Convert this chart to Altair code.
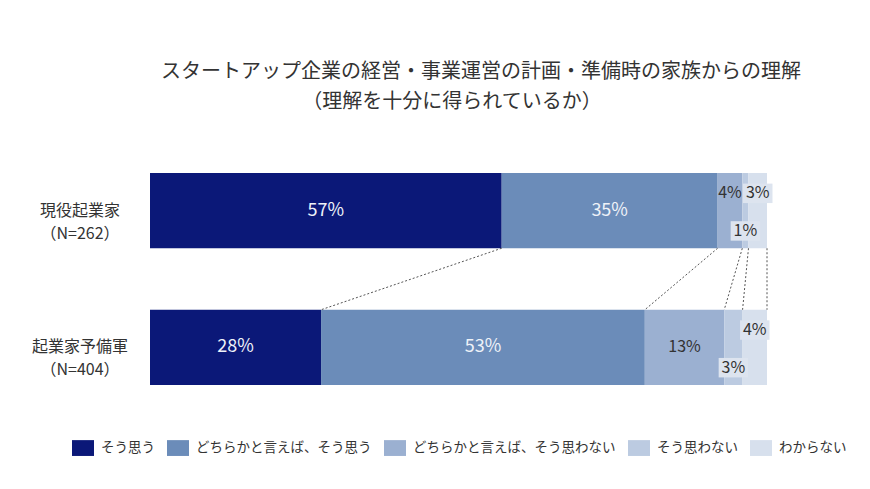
import altair as alt
import pandas as pd

FONT = "Noto Sans CJK JP"

TITLE = "スタートアップ企業の経営・事業運営の計画・準備時の家族からの理解"
SUBTITLE = "（理解を十分に得られているか）"

GROUPS = ["現役起業家\n（N=262）", "起業家予備軍\n（N=404）"]
CATEGORIES = [
    "そう思う",
    "どちらかと言えば、そう思う",
    "どちらかと言えば、そう思わない",
    "そう思わない",
    "わからない",
]
ENTREPRENEURS = [57, 35, 4, 1, 3]
CANDIDATES = [28, 53, 13, 3, 4]

COLORS = ["#0b1878", "#6b8cb9", "#9bb0d1", "#bccbe1", "#d7e0ed"]

# small labels are pushed to the top or bottom of their bar
LABEL_SLOT = {
    (0, 2): "upper", (0, 3): "lower", (0, 4): "upper",
    (1, 3): "lower", (1, 4): "upper",
}
SLOT_BAND = {"upper": 0.27, "center": 0.5, "lower": 0.77}

rows = []
for gi, (group, values) in enumerate(zip(GROUPS, [ENTREPRENEURS, CANDIDATES])):
    total = sum(values)
    start = 0.0
    for i, (cat, v) in enumerate(zip(CATEGORIES, values)):
        end = start + v / total
        rows.append({
            "group": group, "cat": cat, "start": start, "end": end,
            "mid": (start + end) / 2, "label": f"{v}%",
            "slot": LABEL_SLOT.get((gi, i), "center"),
            "big": i < 2, "boxed": i >= 3,
        })
        start = end
df = pd.DataFrame(rows)

top = df[df["group"] == GROUPS[0]].reset_index(drop=True)
bot = df[df["group"] == GROUPS[1]].reset_index(drop=True)
links = pd.DataFrame({
    "x_top": top["end"], "x_bot": bot["end"],
    "g_top": GROUPS[0], "g_bot": GROUPS[1],
})

x_scale = alt.Scale(domain=[0, 1], nice=False, zero=False)
y_scale = alt.Scale(domain=GROUPS, paddingInner=0.45, paddingOuter=0.205)
y_axis = alt.Axis(labels=False, ticks=False, title=None, grid=False,
                  domainColor="#555", domainWidth=1)

bars = alt.Chart(df).mark_bar().encode(
    x=alt.X("start:Q", scale=x_scale, axis=None),
    x2="end:Q",
    y=alt.Y("group:N", scale=y_scale, axis=y_axis, sort=GROUPS),
    color=alt.Color(
        "cat:N",
        scale=alt.Scale(domain=CATEGORIES, range=COLORS),
        legend=alt.Legend(
            title=None, orient="none", legendX=-78, legendY=292,
            direction="horizontal", columns=5, padding=0,
            symbolType="M-1,-0.72L1,-0.72L1,0.72L-1,0.72Z", symbolSize=484,
            symbolStrokeWidth=0, symbolOpacity=1,
            labelFont=FONT, labelFontSize=13.5, labelColor="#333",
            labelOffset=7, columnPadding=12, labelLimit=400,
        ),
    ),
)

connectors = alt.Chart(links).mark_rule(
    strokeDash=[2, 2], color="#555", strokeWidth=1
).encode(
    x=alt.X("x_top:Q", scale=x_scale, axis=None),
    x2="x_bot:Q",
    y=alt.Y("g_top:N", scale=y_scale, bandPosition=1, axis=None),
    y2=alt.Y2("g_bot:N", bandPosition=0),
)

layers = [bars, connectors]

for slot, band in SLOT_BAND.items():
    sub = df[df["slot"] == slot]
    boxed = sub[sub["boxed"]]
    if len(boxed):
        layers.append(
            alt.Chart(boxed).mark_point(
                shape="M-1,-0.66L1,-0.66L1,0.66L-1,0.66Z", size=870,
                filled=True, color="#dde4ef", opacity=1, strokeWidth=0,
            ).encode(
                x=alt.X("mid:Q", scale=x_scale, axis=None),
                y=alt.Y("group:N", scale=y_scale, bandPosition=band, axis=None),
            )
        )
    for big, size, color in [(True, 18, "#eef2f8"), (False, 16, "#333")]:
        part = sub[sub["big"] == big]
        if len(part):
            layers.append(
                alt.Chart(part).mark_text(font=FONT, fontSize=size, color=color).encode(
                    x=alt.X("mid:Q", scale=x_scale, axis=None),
                    y=alt.Y("group:N", scale=y_scale, bandPosition=band, axis=None),
                    text="label:N",
                )
            )

group_labels = alt.Chart(pd.DataFrame({"group": GROUPS})).mark_text(
    font=FONT, fontSize=16, color="#333", align="center", lineBreak="\n",
    lineHeight=23,
).encode(
    x=alt.value(-70),
    y=alt.Y("group:N", scale=y_scale, axis=None),
    text="group:N",
)
layers.append(group_labels)

title = alt.Chart(pd.DataFrame({"t": [TITLE]})).mark_text(
    font=FONT, fontSize=20, color="#333", align="center"
).encode(x=alt.value(331), y=alt.value(-73), text="t:N")
subtitle = alt.Chart(pd.DataFrame({"t": [SUBTITLE]})).mark_text(
    font=FONT, fontSize=20, color="#333", align="center"
).encode(x=alt.value(302), y=alt.value(-43), text="t:N")
layers += [title, subtitle]

chart = (
    alt.layer(*layers)
    .properties(
        width=617, height=268,
        autosize=alt.AutoSizeParams(type="none"),
        padding={"left": 142, "top": 137, "right": 95, "bottom": 60},
        background="white",
    )
    .configure_view(stroke=None)
)

chart.save("out.html", embed_options={"renderer": "svg", "actions": False})
